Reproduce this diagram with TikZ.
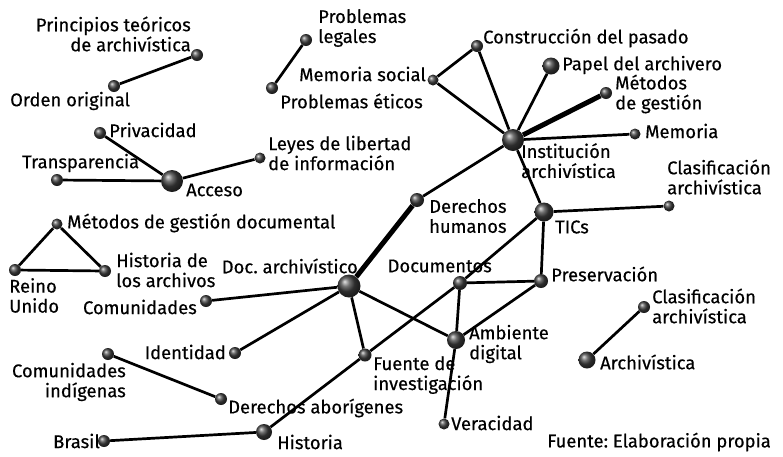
\documentclass[tikz,border=0pt]{standalone}
\usepackage{fontspec}
\setmainfont[FakeBold=0.4]{Fira Sans}
\frenchspacing
\usetikzlibrary{shadings}
\pgfdeclarelayer{background}
\pgfsetlayers{background,main}
\tikzset{
  ball/.style={circle, inner sep=0pt, shading=ball, ball color=black!75},
  big/.style={ball, minimum size=22pt},
  mid/.style={ball, minimum size=17pt},
  sml/.style={ball, minimum size=12pt},
  txt/.style={inner sep=0pt, font=\fontsize{18.4}{20}\selectfont},
  link/.style={line width=2.7pt},
  heavy/.style={line width=5pt}
}
\begin{document}
\begin{tikzpicture}[x=1pt, y=-1pt]
    \useasboundingbox (0,0) rectangle (783,456);
    % top left
    \node[sml] (princ) at (197,55) {};
    \node[sml] (orden) at (114,86) {};
    \node[txt, anchor=east, align=right] (tprinc) at (191,34) {Principios teóricos\\de archivística};
    \node[txt, anchor=west] (torden) at (10,101) {Orden original};
    \node[sml] (legal) at (306,40) {};
    \node[sml] (etico) at (272,88) {};
    \node[txt, anchor=west, align=left] (tlegal) at (318,28) {Problemas\\legales};
    \node[txt, anchor=west] (tetico) at (280,101) {Problemas éticos};

    % Institucion archivistica
    \node[big] (inst) at (513,140) {};
    \node[sml] (constr) at (477,46) {};
    \node[sml, minimum size=11pt] (msocial) at (433,80) {};
    \node[mid] (papel) at (551,66) {};
    \node[sml] (mgest) at (606,93) {};
    \node[sml, minimum size=11pt] (memoria) at (635,134) {};
    \node[txt, anchor=north west, align=left] (tinst) at (521,143) {Institución\\archivística};
    \node[txt, anchor=west] (tconstr) at (483,38) {Construcción del pasado};
    \node[txt, anchor=east] (tmsocial) at (426,74) {Memoria social};
    \node[txt, anchor=west] (tpapel) at (562,65) {Papel del archivero};
    \node[txt, anchor=west, align=left] (tmgest) at (615,94) {Métodos\\de gestión};
    \node[txt, anchor=west] (tmemoria) at (645,131) {Memoria};

    % Acceso
    \node[big] (acceso) at (172,181) {};
    \node[sml] (priv) at (100,133) {};
    \node[sml] (transp) at (57,180) {};
    \node[sml, minimum size=11pt] (leyes) at (260,158) {};
    \node[txt, anchor=west] (tacceso) at (186,190) {Acceso};
    \node[txt, anchor=west] (tpriv) at (109,130) {Privacidad};
    \node[txt, anchor=west] (ttransp) at (22,163) {Transparencia};
    \node[txt, anchor=west, align=left] (tleyes) at (268,153) {Leyes de libertad\\de información};

    % triangle left
    \node[sml, minimum size=11pt] (mdoc) at (57,224) {};
    \node[sml] (reino) at (15,270) {};
    \node[sml] (harch) at (105,271) {};
    \node[txt, anchor=west] (tmdoc) at (67,223) {Métodos de gestión documental};
    \node[txt, anchor=north west, align=left] (treino) at (9,278) {Reino\\Unido};
    \node[txt, anchor=west, align=left] (tharch) at (116,270) {Historia de\\los archivos};

    % centre
    \node[big, minimum size=23pt] (doc) at (349,286) {};
    \node[sml, minimum size=14pt] (dhum) at (417,200) {};
    \node[mid, minimum size=19pt] (tics) at (544,212) {};
    \node[sml, minimum size=11pt] (clas1) at (669,206) {};
    \node[sml, minimum size=14pt] (docs) at (460,283) {};
    \node[sml, minimum size=14pt] (pres) at (541,281) {};
    \node[mid, minimum size=18pt] (amb) at (456,340) {};
    \node[sml, minimum size=13pt] (fuente) at (365,355) {};
    \node[sml] (comu) at (206,301) {};
    \node[sml] (ident) at (235,353) {};
    \node[sml, minimum size=11pt] (verac) at (444,424) {};
    \node[txt, anchor=east] (tdoc) at (358,266) {Doc. archivístico};
    \node[txt, anchor=west, align=left] (tdhum) at (429,216) {Derechos\\humanos};
    \node[txt, anchor=west] (ttics) at (555,227) {TICs};
    \node[txt, anchor=west, align=left] (tclas1) at (667,177) {Clasificación\\archivística};
    \node[txt, anchor=east] (tdocs) at (492,266) {Documentos};
    \node[txt, anchor=west] (tpres) at (551,274) {Preservación};
    \node[txt, anchor=west, align=left] (tamb) at (469,344) {Ambiente\\digital};
    \node[txt, anchor=north west, align=left] (tfuente) at (373,356) {Fuente de\\investigación};
    \node[txt, anchor=east] (tcomu) at (197,307) {Comunidades};
    \node[txt, anchor=east] (tident) at (226,352) {Identidad};
    \node[txt, anchor=west] (tverac) at (451,423) {Veracidad};

    % right
    \node[sml] (clas2) at (644,307) {};
    \node[mid] (archiv) at (587,360) {};
    \node[txt, anchor=west, align=left] (tclas2) at (652,306) {Clasificación\\archivística};
    \node[txt, anchor=west] (tarchiv) at (600,362) {Archivística};

    % bottom left
    \node[sml] (cind) at (108,354) {};
    \node[sml] (dabor) at (221,399) {};
    \node[sml] (brasil) at (104,441) {};
    \node[mid, minimum size=16pt] (hist) at (264,432) {};
    \node[txt, anchor=east, align=right] (tcind) at (126,382) {Comunidades\\indígenas};
    \node[txt, anchor=west] (tdabor) at (228,408) {Derechos aborígenes};
    \node[txt, anchor=east] (tbrasil) at (100,441) {Brasil};
    \node[txt, anchor=west] (thist) at (277,442) {Historia};

    \node[txt, anchor=east] (fuentep) at (771,442) {Fuente: Elaboración propia};

    \begin{pgfonlayer}{background}
        \draw[link] (princ) -- (orden);
        \draw[link] (legal) -- (etico);
        \draw[link] (constr) -- (msocial) -- (inst) -- (constr);
        \draw[link] (papel) -- (inst);
        \draw[heavy] (mgest) -- (inst);
        \draw[link] (memoria) -- (inst);
        \draw[link] (inst) -- (dhum);
        \draw[link] (inst) -- (tics);
        \draw[heavy] (dhum) -- (doc);
        \draw[link] (priv) -- (acceso);
        \draw[link] (transp) -- (acceso);
        \draw[link] (acceso) -- (leyes);
        \draw[link] (mdoc) -- (reino) -- (harch) -- (mdoc);
        \draw[link] (tics) -- (clas1);
        \draw[link] (tics) -- (pres);
        \draw[link] (tics) -- (docs);
        \draw[link] (docs) -- (pres);
        \draw[link] (docs) -- (amb);
        \draw[link] (pres) -- (amb);
        \draw[link] (docs) -- (fuente);
        \draw[link] (fuente) -- (hist);
        \draw[link] (doc) -- (amb);
        \draw[link] (doc) -- (fuente);
        \draw[link] (doc) -- (comu);
        \draw[link] (doc) -- (ident);
        \draw[link] (amb) -- (verac);
        \draw[link] (clas2) -- (archiv);
        \draw[link] (cind) -- (dabor);
        \draw[link] (brasil) -- (hist);
    \end{pgfonlayer}
\end{tikzpicture}
\end{document}
